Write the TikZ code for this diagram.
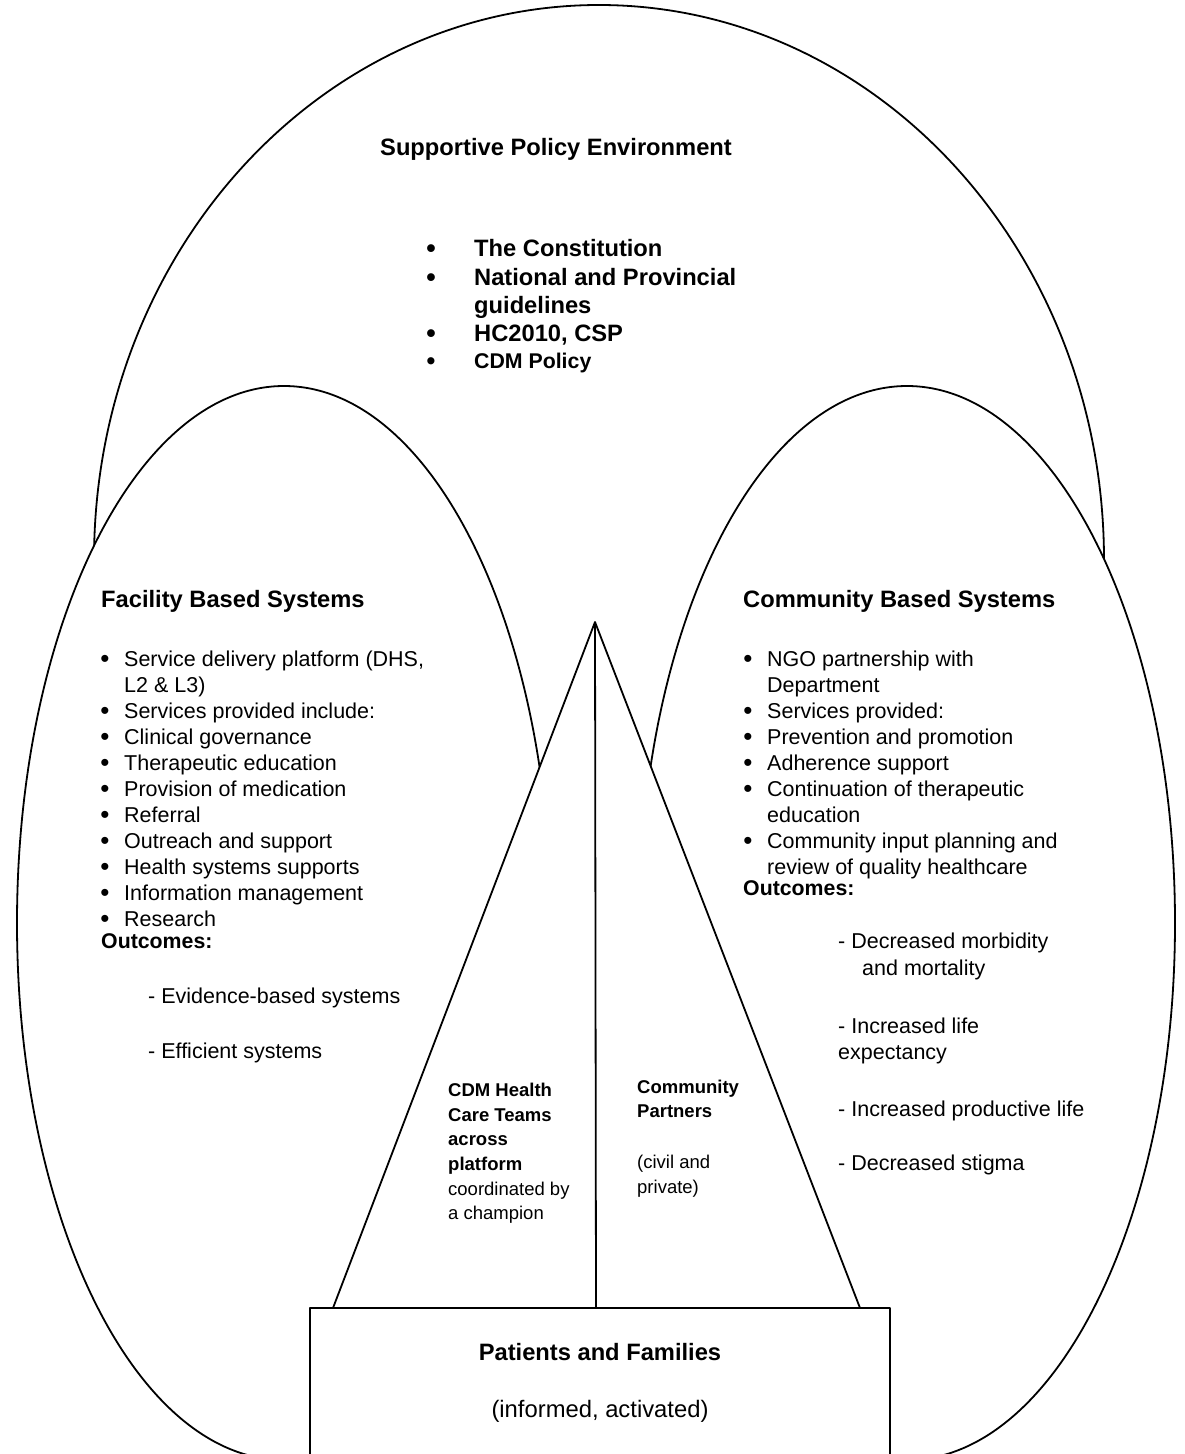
\documentclass[tikz,border=0pt]{standalone}
\usepackage{fontspec}
\setmainfont{Liberation Sans}
\begin{document}
\begin{tikzpicture}[x=1pt,y=-1pt,
  shapeline/.style={line width=1.8pt, line join=round},
  body/.style={inner sep=0pt, anchor=base west, font=\fontsize{21.5}{26}\selectfont},
  bodyb/.style={inner sep=0pt, anchor=base west, font=\fontsize{21.3}{26}\selectfont\bfseries},
  head/.style={inner sep=0pt, anchor=base west, font=\fontsize{23.7}{28}\selectfont\bfseries},
  topb/.style={inner sep=0pt, anchor=base west, font=\fontsize{23.7}{28}\selectfont\bfseries},
  small/.style={inner sep=0pt, anchor=base west, font=\fontsize{18.5}{24}\selectfont},
  smallb/.style={inner sep=0pt, anchor=base west, font=\fontsize{18.5}{24}\selectfont\bfseries},
  bul/.style={inner sep=0pt, anchor=base, yshift=-1.5pt, font=\fontsize{26}{26}\selectfont},
]
\useasboundingbox (0,0) rectangle (1184,1454);
\clip (0,0) rectangle (1184,1454);
\fill[white] (0,0) rectangle (1184,1454);

% shapes
\draw[shapeline] (599,560) ellipse [x radius=505pt, y radius=555pt];
\draw[shapeline, fill=white] (284,923) ellipse [x radius=267pt, y radius=537pt];
\draw[shapeline, fill=white] (907,923) ellipse [x radius=268pt, y radius=537pt];

\coordinate (apex) at (595,622);
\coordinate (tl) at (333,1308);
\coordinate (tr) at (860,1308);
\coordinate (tm) at (596,1308);
\draw[shapeline, fill=white] (apex) -- (tl) -- (tr) -- cycle;
\draw[shapeline] (apex) -- (tm);
\draw[shapeline, fill=white] (310,1308) rectangle (890,1475);

% top ellipse text
\node[head, anchor=base] (spe) at (556,155) {Supportive Policy Environment};
\node[bul, font=\fontsize{27}{28}\selectfont\bfseries] (tb1) at (431,256) {\textbullet};
\node[topb] (t1) at (474,256) {The Constitution};
\node[bul, font=\fontsize{27}{28}\selectfont\bfseries] (tb2) at (431,285) {\textbullet};
\node[topb] (t2) at (474,285) {National and Provincial};
\node[topb] (t3) at (474,313) {guidelines};
\node[bul, font=\fontsize{27}{28}\selectfont\bfseries] (tb4) at (431,341) {\textbullet};
\node[topb] (t4) at (474,341) {HC2010, CSP};
\node[bul, font=\fontsize{25}{26}\selectfont\bfseries] (tb5) at (431,368) {\textbullet};
\node[bodyb] (t5) at (474,368) {CDM Policy};

% left ellipse text
\node[head] (fbs) at (101,607) {Facility Based Systems};
\node[bul] (lb1) at (105,666) {\textbullet};
\node[body] (l1) at (124,666) {Service delivery platform (DHS,};
\node[body] (l2) at (124,692) {L2 \& L3)};
\node[bul] (lb3) at (105,718) {\textbullet};
\node[body] (l3) at (124,718) {Services provided include:};
\node[bul] (lb4) at (105,744) {\textbullet};
\node[body] (l4) at (124,744) {Clinical governance};
\node[bul] (lb5) at (105,770) {\textbullet};
\node[body] (l5) at (124,770) {Therapeutic education};
\node[bul] (lb6) at (105,796) {\textbullet};
\node[body] (l6) at (124,796) {Provision of medication};
\node[bul] (lb7) at (105,822) {\textbullet};
\node[body] (l7) at (124,822) {Referral};
\node[bul] (lb8) at (105,848) {\textbullet};
\node[body] (l8) at (124,848) {Outreach and support};
\node[bul] (lb9) at (105,874) {\textbullet};
\node[body] (l9) at (124,874) {Health systems supports};
\node[bul] (lb10) at (105,900) {\textbullet};
\node[body] (l10) at (124,900) {Information management};
\node[bul] (lb11) at (105,926) {\textbullet};
\node[body] (l11) at (124,926) {Research};
\node[bodyb] (lout) at (101,948) {Outcomes:};
\node[body] (lo1) at (148,1003) {- Evidence-based systems};
\node[body] (lo2) at (148,1058) {- Efficient systems};

% right ellipse text
\node[head] (cbs) at (743,607) {Community Based Systems};
\node[bul] (rb1) at (748,666) {\textbullet};
\node[body] (r1) at (767,666) {NGO partnership with};
\node[body] (r2) at (767,692) {Department};
\node[bul] (rb3) at (748,718) {\textbullet};
\node[body] (r3) at (767,718) {Services provided:};
\node[bul] (rb4) at (748,744) {\textbullet};
\node[body] (r4) at (767,744) {Prevention and promotion};
\node[bul] (rb5) at (748,770) {\textbullet};
\node[body] (r5) at (767,770) {Adherence support};
\node[bul] (rb6) at (748,796) {\textbullet};
\node[body] (r6) at (767,796) {Continuation of therapeutic};
\node[body] (r7) at (767,822) {education};
\node[bul] (rb8) at (748,848) {\textbullet};
\node[body] (r8) at (767,848) {Community input planning and};
\node[body] (r9) at (767,874) {review of quality healthcare};
\node[bodyb] (rout) at (743,895) {Outcomes:};
\node[body] (ro1) at (838,948) {- Decreased morbidity};
\node[body] (ro2) at (862,975) {and mortality};
\node[body] (ro3) at (838,1033) {- Increased life};
\node[body] (ro4) at (838,1059) {expectancy};
\node[body] (ro5) at (838,1116) {- Increased productive life};
\node[body] (ro6) at (838,1170) {- Decreased stigma};

% triangle text
\node[smallb] (c1) at (448,1096) {CDM Health};
\node[smallb] (c2) at (448,1121) {Care Teams};
\node[smallb] (c3) at (448,1145) {across};
\node[smallb] (c4) at (448,1170) {platform};
\node[small] (c5) at (448,1195) {coordinated by};
\node[small] (c6) at (448,1219) {a champion};
\node[smallb] (p1) at (637,1093) {Community};
\node[smallb] (p2) at (637,1117) {Partners};
\node[small] (p3) at (637,1168) {(civil and};
\node[small] (p4) at (637,1193) {private)};

% box text
\node[head, anchor=base] (pf) at (600,1360) {Patients and Families};
\node[body, anchor=base, font=\fontsize{23.8}{28}\selectfont] (ia) at (600,1417) {(informed, activated)};
\end{tikzpicture}
\end{document}
